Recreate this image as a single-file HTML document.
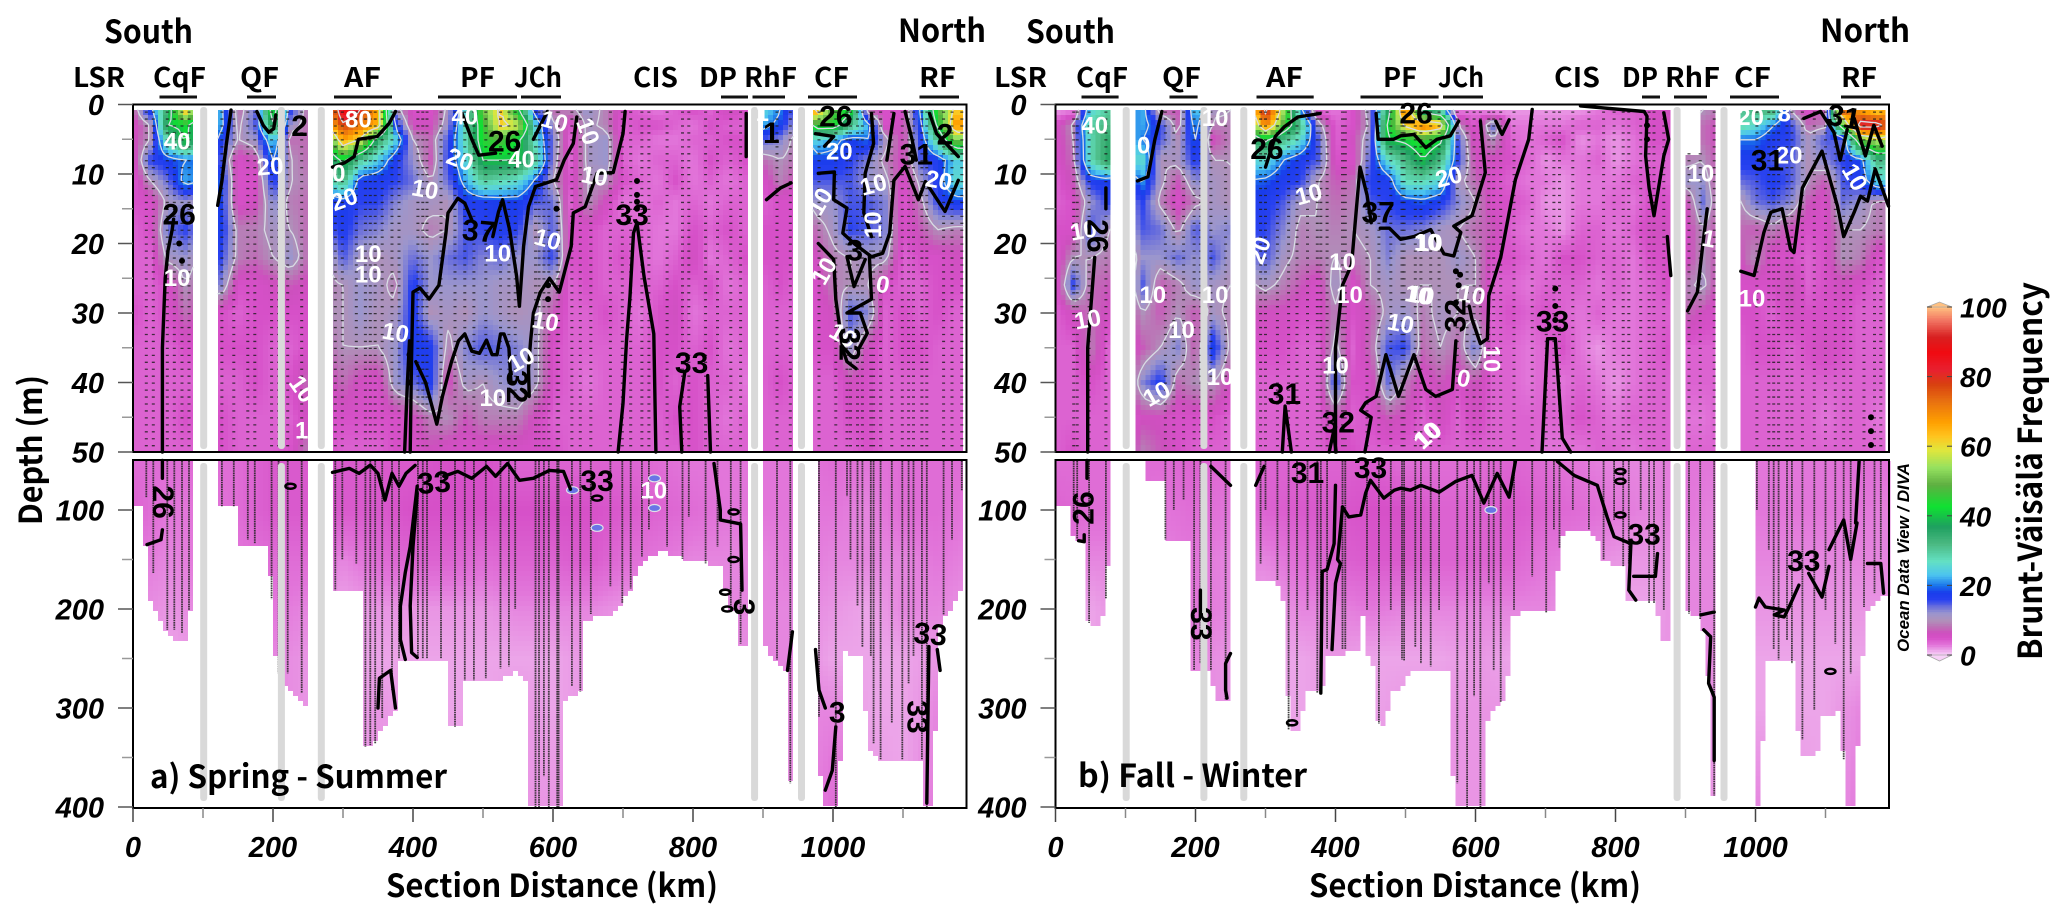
<!DOCTYPE html>
<html lang="en">
<head>
<meta charset="utf-8">
<title>Brunt-Väisälä Frequency Sections</title>
<style>
html,body{margin:0;padding:0;background:#fff;}
svg{display:block;}
.title{font-family:"Noto Sans CJK JP","Liberation Sans",sans-serif;font-weight:700;fill:#000;}
.tick{font-family:"Liberation Sans",sans-serif;font-weight:700;font-style:italic;fill:#000;}
</style>
</head>
<body>
<svg id="chart" xmlns="http://www.w3.org/2000/svg" width="2067" height="923" viewBox="0 0 2067 923">
<rect width="2067" height="923" fill="#fff"/>
<g id="panels"></g>
<g id="colorbar"></g>
<text class="title" x="104" y="43" font-size="32" textLength="89" lengthAdjust="spacingAndGlyphs">South</text>
<text class="title" x="898" y="42" font-size="32" textLength="88" lengthAdjust="spacingAndGlyphs">North</text>
<text class="title" x="1026" y="43" font-size="32" textLength="89" lengthAdjust="spacingAndGlyphs">South</text>
<text class="title" x="1820" y="42" font-size="32" textLength="90" lengthAdjust="spacingAndGlyphs">North</text>
<text class="title" x="150" y="788" font-size="32" textLength="297" lengthAdjust="spacingAndGlyphs">a) Spring - Summer</text>
<text class="title" x="1078" y="787" font-size="32" textLength="229" lengthAdjust="spacingAndGlyphs">b) Fall - Winter</text>
<text class="title" x="386" y="897" font-size="32" textLength="332" lengthAdjust="spacingAndGlyphs">Section Distance (km)</text>
<text class="title" x="1309" y="897" font-size="32" textLength="332" lengthAdjust="spacingAndGlyphs">Section Distance (km)</text>
<text class="title" transform="translate(42,525) rotate(-90)" font-size="32" textLength="150" lengthAdjust="spacingAndGlyphs">Depth (m)</text>
<text class="title" transform="translate(2042,660) rotate(-90)" font-size="33" textLength="378" lengthAdjust="spacingAndGlyphs">Brunt-Väisälä Frequency</text>
<text class="tick" transform="translate(1909,652) rotate(-90)" font-size="17" textLength="189" lengthAdjust="spacingAndGlyphs">Ocean Data View / DIVA</text>
</svg>
<script>
/* ---------- Chart data ---------- */
const kmNodes = [0,25,50,75,100,125,150,175,200,225,250,275,300,325,350,375,400,425,450,475,500,525,550,575,600,625,650,675,700,725,750,775,800,825,850,875,900,925,950,975,1000,1025,1050,1075,1100,1125,1150,1175,1200];
const upperDepths = [1,3,5,8,11,14,18,22,26,30,35,40,45,50];
const springUpper = [
[7,5,6,5,4,5,4,4,4,5,4,4,4,4],[18,10,10,16,10,5,5,4,4,4,4,4,4,4],[35,40,30,18,14,11,14,11,5,5,4,4,4,4],[62,42,42,20,22,12,16,12,10,8,5,4,5,4],
[40,30,30,20,20,10,12,9,7,6,5,4,4,4],[22,22,18,15,19,18,18,16,13,5,5,4,5,5],[8,9,10,5,5,5,9,9,5,4,5,4,4,4],[14,15,12,7,5,6,9,8,5,5,5,5,4,4],
[45,38,25,20,17,13,11,10,6,5,4,4,4,4],[16,12,8,10,10,9,10,12,7,5,4,5,4,5],[8,8,8,8,9,8,8,8,6,5,5,8,6,9],[60,60,40,30,25,16,14,8,9,10,8,5,5,5],
[88,78,68,42,32,18,17,15,10,10,10,8,5,4],[80,72,60,30,17,16,14,11,12,12,10,6,5,4],[65,65,35,24,17,16,13,10,11,10,10,5,5,4],[12,18,25,17,16,13,11,11,9,11,12,12,5,5],
[5,6,10,12,14,11,11,14,17,17,18,14,6,5],[5,6,8,7,10,11,9,12,12,10,17,17,9,6],[11,12,15,16,14,10,10,14,12,11,9,6,10,5],[25,28,28,25,22,17,15,15,12,10,13,11,7,5],
[50,45,45,40,30,17,16,13,12,12,15,10,9,5],[62,62,48,40,28,18,17,14,11,11,14,12,9,5],[42,58,42,40,26,18,16,12,11,10,13,13,9,5],[16,25,26,30,19,15,10,12,10,11,11,11,6,5],
[8,11,13,12,10,14,15,16,10,7,5,5,4,5],[9,5,4,4,5,4,5,5,4,4,4,4,4,4],[12,11,11,11,10,10,5,5,5,4,4,3,4,4],[9,9,12,12,10,6,4,4,4,5,4,4,4,4],
[5,4,4,4,5,3,4,5,4,4,4,4,4,4],[4,5,4,3,4,3,4,4,4,3,4,4,4,4],[3,5,3,4,3,4,3,3,4,5,5,5,4,4],[4,4,3,4,5,3,3,4,5,6,5,4,5,4],
[5,3,4,3,3,4,5,6,4,3,4,5,5,5],[4,5,4,5,4,3,4,3,5,4,5,4,4,4],[6,4,5,4,3,4,5,4,3,4,3,4,3,4],[5,4,5,5,4,4,4,5,4,4,4,3,4,4],
[25,22,15,8,5,4,5,5,4,4,4,4,4,4],[20,18,13,10,9,5,5,5,5,4,4,5,4,4],[12,10,8,8,6,5,5,5,4,4,4,4,4,4],[65,45,25,18,15,12,8,6,5,5,5,4,4,4],
[48,45,22,18,15,12,11,9,9,6,5,4,4,4],[42,32,18,16,15,15,16,10,10,15,12,6,5,4],[8,22,20,13,12,15,15,11,10,13,6,5,5,5],[5,5,11,9,11,13,13,11,5,4,4,4,4,4],
[5,6,6,6,5,4,5,4,4,5,5,4,4,4],[20,18,16,15,11,9,7,5,4,4,5,4,4,4],[48,42,32,17,17,16,10,5,5,5,4,4,4,4],[62,68,52,24,26,18,9,6,5,4,4,4,4,4],
[62,68,52,24,26,18,9,6,5,4,4,4,4,4]];
const fallUpper = [
[2,5,5,5,4,4,5,4,4,4,4,4,4,4],[3,10,9,8,7,5,5,10,16,6,4,4,4,5],[25,30,28,28,17,12,16,10,8,8,9,5,4,4],[30,32,35,36,18,16,10,9,7,6,4,4,4,4],
[20,20,25,25,15,12,9,6,5,5,4,4,4,4],[22,22,20,26,21,16,15,12,15,10,7,13,6,9],[8,16,15,10,11,9,14,12,7,7,10,17,6,7],[7,8,10,11,7,5,9,14,9,10,13,8,5,5],
[25,22,20,17,13,9,15,12,12,7,7,10,5,4],[11,9,6,10,11,11,12,15,11,11,18,10,5,4],[10,9,9,10,10,10,13,11,10,9,9,6,4,4],[50,40,30,25,20,17,16,13,9,7,5,4,4,4],
[82,72,42,26,19,17,16,15,11,6,5,4,4,4],[55,48,32,20,17,15,13,11,9,6,5,4,4,4],[22,32,26,17,16,11,9,9,7,5,4,4,4,4],[4,12,15,15,10,10,10,9,5,5,4,4,4,4],
[3,4,4,5,7,8,9,10,12,9,11,16,7,5],[5,5,6,5,8,9,10,9,5,5,4,5,4,5],[12,11,13,15,17,15,11,10,10,7,8,5,5,4],[36,42,40,26,17,16,14,13,11,11,15,14,7,4],
[72,62,42,32,28,18,14,10,10,12,16,9,6,4],[35,72,46,40,28,19,13,10,10,9,8,5,4,4],[30,66,42,32,25,17,11,10,10,11,10,7,6,4],[3,10,15,16,11,13,10,12,10,10,8,5,4,4],
[3,4,5,6,8,10,8,10,10,9,14,7,6,4],[2,14,10,6,5,5,7,5,4,4,4,4,4,4],[2,3,4,5,4,5,4,5,4,5,4,4,4,4],[2,3,3,4,3,4,3,4,3,4,3,3,4,4],
[2,3,4,2,3,2,3,3,4,5,4,4,4,3],[2,3,5,3,2,2,2,5,4,4,5,3,4,3],[2,4,2,3,3,3,4,5,4,3,3,4,5,3],[3,4,3,4,3,3,4,4,3,4,2,3,4,4],
[4,3,2,2,3,4,3,4,4,3,3,2,3,4],[4,4,3,3,4,3,4,3,3,3,3,3,4,3],[5,5,5,4,5,5,6,5,4,4,4,4,4,4],[6,5,5,4,4,5,6,5,5,4,5,4,4,4],
[12,10,8,9,12,6,5,5,9,8,4,4,3,4],[10,8,8,10,12,14,10,10,11,6,4,4,3,4],[8,6,6,6,6,6,6,6,5,5,4,4,4,4],[30,30,20,17,14,9,8,6,5,5,4,4,4,4],
[32,26,20,17,15,14,7,10,5,5,5,4,4,4],[32,20,17,15,17,15,9,5,5,4,5,4,4,4],[10,16,16,15,15,13,6,5,7,6,4,4,4,4],[5,8,11,10,10,7,5,4,4,5,5,4,4,4],
[8,9,15,13,7,5,5,5,5,5,6,4,3,4],[75,48,14,16,15,14,10,10,6,5,5,4,4,4],[68,85,50,18,17,12,10,9,5,4,4,4,4,4],[62,84,58,32,25,9,9,5,4,4,4,4,3,4],
[72,66,55,30,25,9,9,5,4,4,4,4,3,4]];
const lowerKm = [0,50,100,150,200,250,300,350,400,450,500,550,600,650,700,750,800,850,900,950,1000,1050,1100,1150,1200];
const lowerDepths = [55,100,150,200,250,300,400];
const springLower = [
[3.5,4,3,2.5,2,2,2],[3.5,3,2.5,2,1.5,1.5,2],[3.5,3,3,2.5,2,2,2],[3.5,3.5,3,2.5,2,2,2],[4.5,4.5,3.5,3,2.5,2.5,2.5],[4.5,4.5,3.5,2.5,2,2,2],[4.5,4.5,2.5,1.5,1.5,1.5,1.5],[4.5,4.5,3.5,2,1.5,2,2],
[4.5,5,4,2,1.5,1.5,2],[5,5,4,2,1.5,1.5,2],[5,5,3.5,2,1.5,1.5,2],[4,5,4,2.5,1.5,2,2],[4,5,4,2.5,1.5,1.5,2],[4,5,4.5,2.5,2,2,2],[4,4.5,3.5,2,2,2,2],[3.5,4,3,1.5,1.5,2,2],
[3,3.5,2.5,1.5,2,2,2],[3,3,2.5,2.5,2,2,2],[3,3,2.5,2.5,2.5,2,2],[3,3,3,2.5,2.5,2.5,2],[3.5,3,2.5,2,1.5,2.5,3.5],[3,2.5,2.5,1.5,1.5,1.5,2],[3.5,3.5,2.5,2.5,1.5,1.5,1.5],[3.5,3.5,3,2.5,2,2.5,3],[3.5,3,2.5,2,2,2,2]];
const fallLower = [
[3.5,4,3.5,2.5,2,2,2],[3.5,3.5,2.5,1.5,1.5,2,2],[3.5,3.5,2.5,2.5,2,2,2],[3.5,3,2.5,2.5,2,2,2],[4,3.5,3,3,2.5,2.5,2.5],[3.5,3,2.5,2.5,2,2,2],[4,4,2.5,1.5,1.5,1.5,2],[4,4.5,3.5,2.5,1.5,1.5,2],
[4,4.5,4,2.5,2,2,2],[4.5,5,4.5,3,1.5,1.5,2],[3.5,5,4.5,2.5,1.5,2,2],[3.5,4,4,2.5,1.5,2,2],[3.5,4,4,2.5,2,2,2],[4,4.5,4,2.5,1.5,2,2],[3.5,4,3,2.5,2,2,2],[3,3.5,2.5,1.5,2,2,2],
[2.5,3,2,1.5,2,2,2],[2.5,2.5,2,1.5,2,2,2],[3,3,2.5,2.5,2,2,2],[3,2.5,2.5,2.5,2.5,2,2],[3,3,2.5,2,1.5,1.5,2.5],[3,3,2.5,2,1.5,1.5,2],[3,3,2.5,2,1.5,1.5,1.5],[3.5,3,2.5,2,1.5,2.5,3],[3,2.5,2.5,2,2,2,2]];

const springFloorKm = [0,17,19,29,49,76,83,88,119,148,150,194,198,205,221,248,285,325,329,349,353,377,380,450,453,470,473,525,546,560,565,567,613,614,643,646,690,710,728,760,787,843,850,865,867,878,903,917,934,936,941,975,986,1008,1012,1015,1043,1049,1065,1125,1130,1144,1149,1155,1172,1190];
const springFloorDepth = [95,95,190,196,228,233,197,164,97,97,135,135,190,265,279,300,184,184,340,335,325,300,255,250,319,319,272,272,264,272,282,400,400,292,282,211,204,181,151,142,150,157,203,205,236,236,238,253,261,376,376,315,400,400,329,244,248,342,352,352,400,400,241,208,198,168];
const fallFloorKm = [0,21,22,40,41,57,71,77,128,154,157,193,195,218,232,247,251,286,316,330,333,347,360,381,386,436,437,444,445,457,458,472,479,493,507,560,565,569,611,614,646,648,667,714,721,736,774,778,811,816,859,864,881,902,920,931,937,943,997,1002,1008,1010,1014,1057,1062,1090,1095,1121,1131,1143,1150,1160,1190];
const fallFloorDepth = [95,95,128,131,211,221,201,133,73,73,132,134,261,265,292,292,185,171,174,200,322,325,285,285,248,243,208,208,243,260,315,318,285,285,261,261,282,400,400,315,285,211,204,204,127,120,125,152,157,194,194,233,233,204,208,240,385,390,300,400,400,352,255,255,349,345,309,305,400,400,272,204,184];

const gapKmA = [[88,119],[247,285],[878,902],[941,975],[1187,1195]];
const gapKmB = [[77,116],[251,284],[881,902],[943,979],[1189,1195]];
const lowerGapKmA = [[88,125],[248,285],[878,903],[941,976],[1189,1195]];
const lowerGapKmB = [[77,128],[251,286],[881,902],[943,997],[1190,1195]];
const landBarKm = [101,212,269,888,955];

const stationsA = [19,29,49,59,70,80,127,144,164,174,198,208,221,241,289,299,319,332,339,346,356,370,380,407,414,420,440,460,474,487,504,525,537,546,575,580,587,594,606,608,627,639,654,682,699,711,727,737,763,785,794,818,835,854,868,920,939,980,1004,1020,1025,1035,1042,1054,1058,1068,1084,1099,1108,1115,1127,1134,1158,1170,1184];
const stationBottomA = [87,164,221,221,224,201,97,97,130,134,262,265,265,285,181,150,154,340,340,340,310,282,250,250,250,250,250,319,272,272,270,260,258,200,400,400,369,400,400,400,278,288,205,177,200,180,147,120,137,152,107,203,137,248,235,251,376,309,400,86,150,197,238,248,336,352,315,352,275,248,352,400,214,130,80];
const stationsB = [26,31,48,72,157,169,183,198,207,222,243,293,300,317,333,345,360,374,379,388,410,414,445,462,479,495,498,514,522,536,548,574,588,598,607,619,626,636,655,681,701,712,720,739,762,783,798,811,819,836,848,855,869,905,921,941,1002,1019,1026,1033,1045,1052,1067,1084,1100,1114,1126,1136,1155,1170,1179];
const stationBottomB = [107,130,214,201,130,100,90,262,255,262,292,154,100,171,325,309,201,288,285,240,241,241,201,319,201,251,252,238,255,258,201,376,400,288,400,174,262,309,201,167,204,120,201,100,120,150,110,191,154,100,231,231,201,221,390,400,100,140,241,251,231,352,332,302,201,235,400,265,198,184,150];

/* black density contours: [kilometres, depth] pairs */
const springUpperContours = [
[[42,50],[42,35],[46,25],[50,21],[56,18],[58,16.5]],
[[140,0.8],[133,6],[127,11],[121,14.5]],
[[177,1],[186,3],[194,4],[201,3.5],[204,1.5]],
[[285,9],[302,8.4],[316,7.5],[322,5],[349,4.6],[366,2.7],[375,1]],
[[396,50],[398,36],[400,27],[410,26.4],[423,28],[437,26],[447,18.5],[450,15.6],[464,13.5],[474,14.2],[484,16.6]],
[[514,19],[522,15.5],[528,13.7],[538,18],[548,24.7],[552,29]],
[[388,50],[392,40],[395,34]],
[[404,37],[418,40],[434,46],[442,42],[455,37],[465,34],[474,33],[484,35.5],[495,35.8],[505,33.9],[513,36],[520,36],[525,33],[530,33],[537,35],[540,40],[545,40]],
[[555,41],[566,42],[565,38],[568,34],[572,30],[582,27],[595,25],[609,27],[626,20.4],[629,15.6],[646,14.7],[663,9.9],[686,9.8],[700,4.2],[703,1]],
[[552,29],[558,20.4],[565,14.7],[575,11.8],[605,10.8],[616,8],[629,5.6],[634,1.8]],
[[470,1.3],[484,5],[494,7.3],[518,7]],
[[572,5],[592,1]],
[[693,50],[700,43],[705,34],[710,27.6],[715,18.5],[720,17],[730,24.7],[744,33],[747,50]],
[[784,50],[781,43.5],[788,38.7]],
[[821,39],[825,50]],
[[876,1.3],[876,7.5]],
[[905,13.7],[925,12],[940,11.3]],
[[975,4.2],[1001,4.6],[988,6]],
[[979,9.9],[1002,9.7],[1001,13.7],[1020,14.9],[1014,18.5],[1030,20],[1055,21.9],[1071,21.4],[1081,18.5],[1084,14.7],[1087,10.9],[1103,8.9],[1122,13.7],[1132,11.1],[1160,15.4],[1179,10.9]],
[[1055,1.3],[1058,5.6],[1046,9.9],[1044,15.6],[1055,19]],
[[979,20],[1001,22.3],[1004,28],[1014,35.3],[1020,37],[1033,38]],
[[1052,21.9],[1055,28],[1020,30],[1039,30],[1049,32.9],[1036,35.3]],
[[1020,21.9],[1030,26.2],[1046,22.3]],
[[1087,1.3],[1077,8]],
[[1103,1],[1113,5.1],[1119,8]],
[[1138,1.3],[1148,4.2],[1179,7.5]]];
const springLowerContours = [
[[42,50],[42,68]],
[[42,120],[40,130],[20,135]],
[[285,62],[309,58],[323,63],[339,54.6],[350,63],[360,90],[370,63],[380,76],[390,63],[403,55]],
[[444,66],[464,61],[484,68],[505,56],[518,66],[535,53],[552,70],[572,68],[595,60],[615,61],[625,79]],
[[406,76],[396,137],[389,163],[382,197],[382,231],[389,251]],
[[406,83],[400,137],[396,197],[398,244],[406,249]],
[[350,300],[352,270],[368,262],[375,300]],
[[830,53],[839,100],[839,110],[868,114],[870,181]],
[[942,223],[935,262]],
[[975,241],[980,282],[989,300]],
[[1004,319],[999,363],[989,383]],
[[1137,238],[1134,396]],
[[1149,241],[1153,262]]];
const fallUpperContours = [
[[46,50],[46,35],[56,22]],
[[72,12],[72,15]],
[[152,1],[142,5],[132,10.4],[117,11]],
[[300,9],[314,4.6],[327,3.2],[346,1.8],[378,1.3]],
[[400,50],[400,35],[410,26],[423,23],[429,16],[435,9],[445,13],[451,17]],
[[458,1.3],[461,5],[483,5],[493,4.5],[512,4.3],[529,6.2],[545,5],[564,4.5],[576,2.4]],
[[464,17.8],[477,17.8],[493,19.4],[512,19],[536,18],[555,21.5],[569,21.8],[579,18.4],[569,17.5],[595,16],[614,9.8],[607,2.4]],
[[629,2.4],[638,4.3],[648,2.2]],
[[681,0.7],[676,5],[657,10.8],[636,22],[619,27.5],[617,33.7],[607,34.4],[595,30.9],[591,29]],
[[442,50],[451,45],[436,44],[443,42.9],[458,42],[472,36],[490,42],[512,36],[529,41],[543,42],[567,41],[572,34]],
[[750,0.2],[841,1],[845,1.7],[843,7.4],[848,12],[855,16],[869,7.4],[876,5],[869,1.2]],
[[874,19],[879,24.6]],
[[695,50],[703,33.7],[714,33.7],[724,48],[736,50]],
[[931,15],[924,20.8],[917,27],[903,29.7]],
[[979,24],[998,24.6],[1012,18.4],[1022,15.5],[1038,15],[1050,20.8],[1055,21.3],[1067,12],[1095,6.7],[1107,11],[1117,14.6],[1126,19],[1141,15.5],[1150,13.2],[1160,13.9],[1171,9.3],[1190,14.6]],
[[1069,2],[1093,1],[1112,4],[1121,8],[1131,3.6]],
[[1141,2],[1157,7.4],[1169,3],[1181,6]],
[[324,50],[328,43.4],[337,50]],
[[391,50],[397,47.2],[401,50]]];
const fallLowerContours = [
[[45,50],[45,68]],
[[41,125],[41,132],[33,131]],
[[222,56],[250,75]],
[[250,245],[243,255],[243,282],[245,290]],
[[207,181],[207,208]],
[[286,75],[298,56]],
[[400,75],[398,134],[388,160],[381,162],[379,285]],
[[410,97],[403,150],[407,154],[400,174],[395,241]],
[[410,97],[419,107],[436,105],[443,83],[450,70],[469,88],[484,80],[493,78],[507,80],[522,75],[548,82],[572,71],[595,65],[612,93],[631,63],[648,87],[657,51]],
[[717,51],[741,65],[774,75],[788,107],[798,127],[822,134],[819,181],[829,191]],
[[826,167],[857,167],[860,144]],
[[922,206],[941,203]],
[[926,221],[936,228],[933,275],[941,289],[941,353]],
[[1000,198],[1005,189],[1014,198],[1041,201],[1027,206],[1041,208],[1048,198],[1062,176]],
[[1076,164],[1095,188],[1105,157]],
[[1105,140],[1126,110],[1136,150],[1145,113]],
[[1148,51],[1143,113]],
[[1160,154],[1179,154],[1183,184]]];

/* isolated black beads: [kilometres, depth] */
const springBeads = [[720,11],[720,13],[720,14],[720,15],[605,15],[70,22.5],[66,20],[593,26],[593,28],[395,36],[395,38],[395,40]];
const fallBeads = [[572,28.5],[576,26],[578,24.5],[572,24],[845,3],[845,5],[714,26.5],[714,29],[714,31],[1165,45],[1165,47],[1165,49]];
const springLowerBlobs = [[663,88],[858,102],[858,150],[846,183],[849,200],[225,76]];
const fallLowerBlobs = [[807,61],[807,71],[807,105],[1107,263],[338,315]];
const springSpots = [[745,68],[745,98],[628,80],[663,118]];
const fallSpots = [[622,100]];

/* contour labels: [text, kilometres, depth, rotation] */
const springWhiteLabels = [["40",63,5.4,0],["20",196,9,-5],["80",322,2.2,0],["0",294,10,0],["20",302,13.7,-20],["10",417,12.3,10],["20",467,8,20],["40",555,8,0],["40",474,1.8,0],["10",602,2.5,15],["10",592,19.5,15],["10",521,21.5,0],["10",336,21.6,0],["10",336,24.5,0],["10",63,25,0],["10",659,10.4,10],["10",649,3.9,70],["10",589,31.3,10],["10",375,32.9,10],["10",555,36.8,-30],["10",514,42.3,0],["10",241,41,55],["1",241,47,0],["20",1009,6.8,0],["10",1058,11.6,-15],["10",1058,17.3,-90],["10",988,24,-60],["0",1071,26,10],["20",1151,11,10],["10",982,14,-60],["1",899,1.3,0],["10",1014,33.3,30]];
const springBlackLabels = [["26",66,15.9,0],["37",494,18.3,5],["26",531,5.4,0],["33",713,16,0],["2",238,3.2,0],["33",798,37.3,0],["32",548,40.6,90],["26",1004,1.8,0],["31",1119,7.3,0],["2",1160,4.4,0],["1",912,4.2,0],["3",1031,21.1,0],["32",1023,34.5,90]];
const springBlackLower = [["26",42,92,90],["33",430,73,-5],["33",663,71,0],["33",1139,226,5],["33",1120,309,90],["3",1006,305,0],["3",872,198,90]];
const springWhiteLower = [["10",744,81,0]];
const fallWhiteLabels = [["40",56,3.1,0],["10",40,18.2,-10],["10",46,31,-10],["0",126,6,0],["10",139,27.5,0],["10",180,32.5,0],["10",228,27.5,0],["10",228,2,0],["10",362,13,-15],["20",292,21,-70],["10",410,22.7,0],["10",420,27.5,0],["10",518,27.5,10],["10",493,31.6,10],["10",534,20,0],["10",400,37.6,0],["10",145,41.7,-30],["10",235,39.3,0],["10",531,47.7,-45],["20",562,10.5,-15],["10",531,19.9,0],["10",522,27.5,10],["10",595,27.5,10],["0",583,39.5,10],["10",622,36.6,90],["10",533,47.6,-40],["10",922,10,0],["1",933,19.4,10],["10",995,28,0],["20",1048,7.4,0],["20",993,1.9,0],["8",1041,1.4,0],["10",1141,10.5,60]];
const fallBlackLabels = [["26",302,6.5,0],["26",59,18.9,90],["37",461,15.6,0],["26",515,1.4,0],["31",327,41.7,0],["32",404,45.8,0],["32",572,30.4,-90],["33",710,31.3,0],["31",1017,8.1,0],["31",1126,1.9,10]];
const fallBlackLower = [["26",41,98,-90],["31",360,63,0],["33",450,58,0],["33",841,125,0],["33",1069,152,0],["33",207,215,90]];

/* fault labels: [text, left px, right px] and underline bars [left px, right px] */
const faultNamesA = [["LSR",73,125],["CqF",153,206],["QF",240,279],["AF",344,381],["PF",460,495],["JCh",514,562],["CIS",633,678],["DP",699,737],["RhF",744,797],["CF",814,849],["RF",919,956]];
const faultNamesB = [["LSR",994,1047],["CqF",1076,1128],["QF",1162,1201],["AF",1266,1303],["PF",1383,1417],["JCh",1438,1484],["CIS",1554,1600],["DP",1622,1658],["RhF",1665,1720],["CF",1734,1771],["RF",1841,1877]];
const faultBars = [[159.5,197],[247,276],[334,392],[438,517],[521,561],[721,748],[752.5,785],[808,857],[919.5,959],[1081.5,1118.6],[1169.5,1197.6],[1256.5,1313.7],[1360.5,1438.6],[1443,1483],[1642,1660],[1674,1707],[1730,1779],[1841,1881]];

const xTickValues = [0,100,200,300,400,500,600,700,800,900,1000,1100];
const xTickLabels = [0,200,400,600,800,1000];
const upperTicks = [0,5,10,15,20,25,30,35,40,45,50];
const upperLabels = [0,10,20,30,40,50];
const lowerTicks = [100,150,200,250,300,350,400];
const lowerLabels = [100,200,300,400];
const colorbarTicks = [0,20,40,60,80,100];

/* colour ramp stops: value, r, g, b */
const ramp = [[0,248,210,248],[1.5,236,165,233],[3,226,118,218],[5,214,80,200],[6.5,205,80,190],[8,190,110,182],[10,175,145,185],[12,155,150,205],[14,105,110,220],[16,40,65,240],[18,25,60,235],[20,25,115,235],[23,75,195,240],[27,100,225,195],[32,75,185,130],[37,30,160,95],[42.7,15,225,50],[49,95,175,65],[54,150,225,95],[59,225,230,60],[63,255,195,30],[67,255,160,0],[73,232,112,16],[78,216,64,16],[82,232,32,48],[87,240,10,16],[91.5,216,32,32],[96,240,112,96],[100,255,192,128]];

/* ---------- Helpers ---------- */
const NS = "http://www.w3.org/2000/svg";
function mk(parent, tag, attrs, text) {
  const el = document.createElementNS(NS, tag);
  for (const k in attrs) el.setAttribute(k, attrs[k]);
  if (text !== undefined) el.textContent = text;
  parent.appendChild(el);
  return el;
}
function colorOf(v) {
  if (v <= ramp[0][0]) return `rgb(${ramp[0][1]},${ramp[0][2]},${ramp[0][3]})`;
  for (let i = 1; i < ramp.length; i++) {
    if (v <= ramp[i][0]) {
      const a = ramp[i - 1], b = ramp[i], t = (v - a[0]) / (b[0] - a[0]);
      return `rgb(${Math.round(a[1] + t * (b[1] - a[1]))},${Math.round(a[2] + t * (b[2] - a[2]))},${Math.round(a[3] + t * (b[3] - a[3]))})`;
    }
  }
  const l = ramp[ramp.length - 1];
  return `rgb(${l[1]},${l[2]},${l[3]})`;
}
function bracket(arr, v) {
  if (v <= arr[0]) return [0, 0, 0];
  if (v >= arr[arr.length - 1]) return [arr.length - 1, arr.length - 1, 0];
  let i = 0;
  while (arr[i + 1] < v) i++;
  return [i, i + 1, (v - arr[i]) / (arr[i + 1] - arr[i])];
}
function sample(grid, xs, ys, x, y) {
  const [i0, i1, tx] = bracket(xs, x), [j0, j1, ty] = bracket(ys, y);
  const a = grid[i0][j0] * (1 - tx) + grid[i1][j0] * tx;
  const b = grid[i0][j1] * (1 - tx) + grid[i1][j1] * tx;
  return a * (1 - ty) + b * ty;
}
function interp(xs, ys, x) {
  const [i0, i1, t] = bracket(xs, x);
  return ys[i0] * (1 - t) + ys[i1] * t;
}
function inGap(gaps, km) {
  return gaps.some(g => km >= g[0] && km <= g[1]);
}

/* ---------- Panel drawing ---------- */
const KM_PX = 0.7;
const CELL = 5;
const upperY = d => 104.5 + 6.95 * d;
const lowerY = d => 510 + (d - 100) * 0.99;

function drawField(group, cfg, xOf, yOf, kmOf, depthOf, grid, xs, ys, top, bottom, gaps, floorFn, prefix) {
  const left = cfg.left, right = cfg.right;
  const nx = Math.ceil((right - left) / CELL), ny = Math.ceil((bottom - top) / CELL);
  const inside = (px, py) => {
    const km = kmOf(px), d = depthOf(py);
    if (inGap(gaps, km)) return false;
    if (!floorFn && cfg.notch && km > cfg.notch[0] && km < cfg.notch[1] && d < cfg.notch[2]) return false;
    return !(floorFn && d > floorFn(km));
  };
  const field = mk(group, "g", { "shape-rendering": "crispEdges" });
  
  
  for (let j = 0; j < ny; j++) {
    const py = top + j * CELL;
    let runStart = -1, runColor = null;
    const flush = end => {
      if (runStart < 0) return;
      const c = mk(field, "rect", { x: left + runStart * CELL, y: py, width: (end - runStart) * CELL, height: Math.min(CELL, bottom - py), fill: runColor });
      
      
      runStart = -1; runColor = null;
    };
    for (let i = 0; i < nx; i++) {
      const px = left + i * CELL;
      const cx = px + CELL / 2, cy = py + CELL / 2;
      if (!inside(cx, cy)) { flush(i); continue; }
      const col = colorOf(sample(grid, xs, ys, kmOf(cx), depthOf(cy)));
      if (col !== runColor) { flush(i); runStart = i; runColor = col; }
    }
    flush(nx);
  }
  /* isolines of the same grid */
  const levels = [10, 20, 40, 60, 80];
  let dd = "";
  for (const lev of levels) {
    for (let j = 0; j < ny; j++) {
      for (let i = 0; i < nx; i++) {
        const px = left + i * CELL, py = top + j * CELL;
        if (!inside(px + CELL / 2, py + CELL / 2)) continue;
        const val = (a, b) => sample(grid, xs, ys, kmOf(a), depthOf(b));
        const v00 = val(px, py), v10 = val(px + CELL, py), v01 = val(px, py + CELL), v11 = val(px + CELL, py + CELL);
        const pts = [];
        if ((v00 < lev) !== (v10 < lev)) pts.push([px + CELL * (lev - v00) / (v10 - v00), py]);
        if ((v10 < lev) !== (v11 < lev)) pts.push([px + CELL, py + CELL * (lev - v10) / (v11 - v10)]);
        if ((v01 < lev) !== (v11 < lev)) pts.push([px + CELL * (lev - v01) / (v11 - v01), py + CELL]);
        if ((v00 < lev) !== (v01 < lev)) pts.push([px, py + CELL * (lev - v00) / (v01 - v00)]);
        for (let k = 0; k + 1 < pts.length; k += 2) {
          dd += `M${pts[k][0].toFixed(1)} ${pts[k][1].toFixed(1)}L${pts[k + 1][0].toFixed(1)} ${pts[k + 1][1].toFixed(1)}`;
        }
      }
    }
  }
  if (dd) {
    const iso = mk(group, "path", { d: dd, fill: "none", stroke: "#d8dce4", "stroke-width": 1.3, "stroke-linecap": "round" });
    
    
  }
}

function drawPanel(cfg) {
  const root = document.getElementById("panels");
  const g = mk(root, "g", {});
  
  
  const x = km => cfg.left + km * KM_PX;
  const kmOf = px => (px - cfg.left) / KM_PX;
  const upperDepthOf = py => (py - 104.5) / 6.95;
  const lowerDepthOf = py => 100 + (py - 510) / 0.99;
  const floorFn = km => interp(cfg.floorKm, cfg.floorDepth, km);

  drawField(g, cfg, x, upperY, kmOf, upperDepthOf, cfg.upper, kmNodes, upperDepths, 110, 452, cfg.gaps, null, "upper-" + cfg.id);
  drawField(g, cfg, x, lowerY, kmOf, lowerDepthOf, cfg.lower, lowerKm, lowerDepths, 461, 807, cfg.lowerGaps, floorFn, "lower-" + cfg.id);

  /* sampling stations */
  cfg.stations.forEach((km, i) => {
    const startDepth = (cfg.notch && km > cfg.notch[0] && km < cfg.notch[1]) ? cfg.notch[2] : 1;
    const dots = mk(g, "line", { x1: x(km), x2: x(km), y1: upperY(startDepth), y2: 452, stroke: "#1c1c1c", "stroke-width": 3, "stroke-dasharray": "1.3 5.65", opacity: 0.8 });
    
    
    const bottom = Math.min(cfg.stationBottom[i], floorFn(km));
    const line = mk(g, "line", { x1: x(km), x2: x(km), y1: 461, y2: lowerY(bottom), stroke: "#222", "stroke-width": 1.8, "stroke-dasharray": "1.6 0.7", opacity: 0.85 });
    
    
  });

  /* land-location bars */
  landBarKm.forEach(km => {
    const barU = mk(g, "rect", { x: x(km) - 3.5, y: 107, width: 7, height: 342, rx: 3, fill: "#d9d9d9" });
    
    
    const barL = mk(g, "rect", { x: x(km) - 3.5, y: 463, width: 7, height: 338, rx: 3, fill: "#d9d9d9" });
    
    
  });

  /* blue spots */
  cfg.spots.forEach(s => {
    const spot = mk(g, "ellipse", { cx: x(s[0]), cy: lowerY(s[1]), rx: 6, ry: 3.5, fill: "#6a74e6", stroke: "#e0e0e8", "stroke-width": 1.2 });
    
    
  });

  /* black contours */
  const contour = (pairs, yFn, name) => {
    const p = mk(g, "polyline", { points: pairs.map(q => x(q[0]).toFixed(1) + "," + yFn(q[1]).toFixed(1)).join(" "), fill: "none", stroke: "#000", "stroke-width": 3.4, "stroke-linejoin": "round", "stroke-linecap": "round" });
    
    
  };
  cfg.upperContours.forEach(c => contour(c, upperY, "density-contour-upper"));
  cfg.lowerContours.forEach(c => contour(c, lowerY, "density-contour-lower"));
  cfg.beads.forEach(b => {
    const bead = mk(g, "circle", { cx: x(b[0]), cy: upperY(b[1]), r: 3, fill: "#000" });
    
    
  });
  cfg.blobs.forEach(b => {
    const blob = mk(g, "ellipse", { cx: x(b[0]), cy: lowerY(b[1]), rx: 5, ry: 2.5, fill: "none", stroke: "#000", "stroke-width": 2.6 });
    
    
  });

  /* contour labels */
  const label = (item, yFn, size, fill, name) => {
    const px = x(item[1]), py = yFn(item[2]);
    const t = mk(g, "text", { x: px, y: py, "font-family": '"Liberation Sans",sans-serif', "font-weight": 700, "font-size": size, fill: fill, "text-anchor": "middle", "dominant-baseline": "central", transform: `rotate(${item[3]} ${px} ${py})` }, item[0]);
    
    
  };
  cfg.whiteLabels.forEach(l => label(l, upperY, 24, "#fff", "frequency-contour-label"));
  cfg.blackLabels.forEach(l => label(l, upperY, 30, "#000", "density-contour-label"));
  cfg.whiteLower.forEach(l => label(l, lowerY, 24, "#fff", "frequency-contour-label"));
  cfg.blackLower.forEach(l => label(l, lowerY, 30, "#000", "density-contour-label"));

  /* frames */
  const frameU = mk(g, "rect", { x: cfg.left, y: 104.5, width: cfg.right - cfg.left, height: 347.5, fill: "none", stroke: "#000", "stroke-width": 2 });
  
  
  const frameL = mk(g, "rect", { x: cfg.left, y: 460, width: cfg.right - cfg.left, height: 348, fill: "none", stroke: "#000", "stroke-width": 2 });
  
  

  /* x axis */
  xTickValues.forEach(v => {
    const major = v % 200 === 0;
    const tk = mk(g, "line", { x1: x(v), x2: x(v), y1: 808, y2: major ? 822 : 818, stroke: major ? "#444" : "#888", "stroke-width": 1.5 });
    
    
  });
  xTickLabels.forEach(v => {
    const t = mk(g, "text", { class: "tick", x: x(v), y: 857, "font-size": 29, "text-anchor": "middle" }, v);
    
    
  });

  /* y axes */
  const yTick = (py, major) => {
    const tk = mk(g, "line", { x1: cfg.left - (major ? 15 : 11), x2: cfg.left, y1: py, y2: py, stroke: major ? "#555" : "#999", "stroke-width": 1.5 });
    
    
  };
  const yLabel = (py, v) => {
    const t = mk(g, "text", { class: "tick", x: cfg.left - 29, y: py + 10.5, "font-size": 29, "text-anchor": "end" }, v);
    
    
  };
  upperTicks.forEach(v => yTick(upperY(v), v % 10 === 0));
  upperLabels.forEach(v => yLabel(upperY(v), v));
  lowerTicks.forEach(v => yTick(lowerY(v), v % 100 === 0));
  lowerLabels.forEach(v => yLabel(lowerY(v), v));

  /* fault labels */
  cfg.faults.forEach(f => {
    const t = mk(g, "text", { class: "title", x: f[1], y: 87, "font-size": 27, textLength: f[2] - f[1], lengthAdjust: "spacingAndGlyphs" }, f[0]);
    
    
  });
}

drawPanel({ id: "a", left: 133, right: 966.5, upper: springUpper, lower: springLower, gaps: gapKmA, lowerGaps: lowerGapKmA,
  floorKm: springFloorKm, floorDepth: springFloorDepth, stations: stationsA, stationBottom: stationBottomA,
  upperContours: springUpperContours, lowerContours: springLowerContours, beads: springBeads, blobs: springLowerBlobs, spots: springSpots,
  whiteLabels: springWhiteLabels, blackLabels: springBlackLabels, whiteLower: springWhiteLower, blackLower: springBlackLower, faults: faultNamesA });
drawPanel({ id: "b", left: 1055.5, right: 1889, upper: fallUpper, lower: fallLower, gaps: gapKmB, lowerGaps: lowerGapKmB, notch: [902, 925, 7],
  floorKm: fallFloorKm, floorDepth: fallFloorDepth, stations: stationsB, stationBottom: stationBottomB,
  upperContours: fallUpperContours, lowerContours: fallLowerContours, beads: fallBeads, blobs: fallLowerBlobs, spots: fallSpots,
  whiteLabels: fallWhiteLabels, blackLabels: fallBlackLabels, whiteLower: [], blackLower: fallBlackLower, faults: faultNamesB });

faultBars.forEach(b => {
  const bar = mk(document.getElementById("panels"), "rect", { x: b[0], y: 95.5, width: b[1] - b[0], height: 3, fill: "#111" });
  
  
});

/* ---------- Colorbar ---------- */
(function () {
  const g = document.getElementById("colorbar");
  const cy = v => 655 - v * 3.48;
  for (let v = 0; v < 100; v += 0.5) {
    const seg = mk(g, "rect", { x: 1927, y: cy(v + 0.5), width: 25, height: 2.2, fill: colorOf(v + 0.25), "shape-rendering": "crispEdges" });
    
    
  }
  const capTop = mk(g, "polygon", { points: `1927,307 1939.5,302 1952,307`, fill: colorOf(100), stroke: "#aaa", "stroke-width": 0.8 });
  
  
  const capBottom = mk(g, "polygon", { points: `1927,655 1939.5,661 1952,655`, fill: colorOf(0), stroke: "#aaa", "stroke-width": 0.8 });
  
  
  colorbarTicks.forEach(v => {
    const tl = mk(g, "line", { x1: 1927, x2: 1932, y1: cy(v), y2: cy(v), stroke: "#444", "stroke-width": 1 });
    
    
    const tr = mk(g, "line", { x1: 1947, x2: 1952, y1: cy(v), y2: cy(v), stroke: "#444", "stroke-width": 1 });
    
    
    const t = mk(g, "text", { class: "tick", x: 1960, y: cy(v) + 10.5, "font-size": 28 }, v);
    
    
  });
})();
</script>
</body>
</html>
